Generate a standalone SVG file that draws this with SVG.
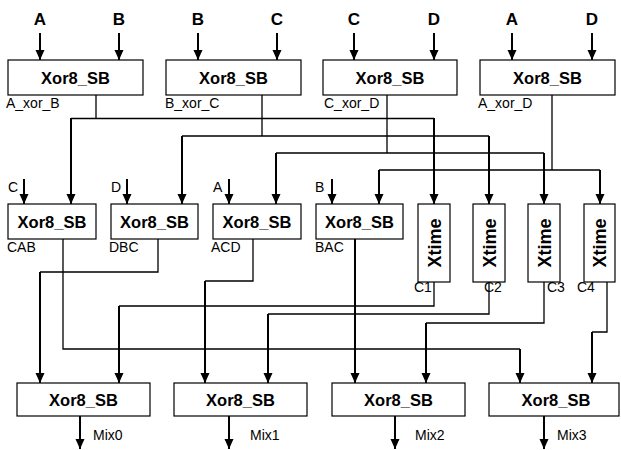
<svg xmlns="http://www.w3.org/2000/svg" width="621" height="450" viewBox="0 0 621 450">
<style>
.box{fill:#fff;stroke:#000;stroke-width:1.2}
.t{font-family:"Liberation Sans",Arial,sans-serif;font-weight:bold;font-size:16.5px;text-anchor:middle;fill:#000}
.h{font-family:"Liberation Sans",Arial,sans-serif;font-weight:bold;font-size:17px;text-anchor:middle;fill:#000}
.s{font-family:"Liberation Sans",Arial,sans-serif;font-size:14px;fill:#000}
.x{font-family:"Liberation Sans",Arial,sans-serif;font-weight:bold;font-size:18px;text-anchor:middle;fill:#000}
.thin{fill:none;stroke:#000;stroke-width:1.3}
.thick{fill:none;stroke:#000;stroke-width:2;marker-end:url(#ah)}
</style>
<defs>
<marker id="ah" markerUnits="userSpaceOnUse" markerWidth="10" markerHeight="10" refX="10" refY="4.5" orient="auto">
<path d="M0,0 L10,4.5 L0,9 z" fill="#000"/>
</marker>
</defs>
<rect width="621" height="450" fill="#fff"/>

<g id="connectors">
<path class="thick" d="M40,33 V60"/><path class="thick" d="M119,33 V60"/>
<path class="thick" d="M198,33 V60"/><path class="thick" d="M277,33 V60"/>
<path class="thick" d="M354,33 V60"/><path class="thick" d="M434,33 V60"/>
<path class="thick" d="M512,33 V60"/><path class="thick" d="M592,33 V60"/>
<path class="thin" d="M96,95 V118.5 M71,118.5 H434"/>
<path class="thick" d="M71,118 V204"/><path class="thick" d="M434,118 V204"/>
<path class="thin" d="M262,95 V136 M182,136 H489"/>
<path class="thick" d="M182,136 V204"/><path class="thick" d="M489,136 V204"/>
<path class="thin" d="M387,95 V153 M276,153 H544"/>
<path class="thick" d="M276,153 V204"/><path class="thick" d="M544,153 V204"/>
<path class="thin" d="M552,95 V170 M379,170 H600"/>
<path class="thick" d="M379,170 V204"/><path class="thick" d="M600,170 V204"/>
<path class="thick" d="M24,179 V204"/><path class="thick" d="M127,179 V204"/>
<path class="thick" d="M229,179 V204"/><path class="thick" d="M332,179 V204"/>
<path class="thin" d="M63,239 V349 H520"/><path class="thick" d="M520,349 V383"/>
<path class="thin" d="M158,239 V272 H40"/><path class="thick" d="M40,272 V383"/>
<path class="thin" d="M253,239 V281 H205"/><path class="thick" d="M205,281 V383"/>
<path class="thick" d="M355,239 V383"/>
<path class="thin" d="M434,282 V306 H119"/><path class="thick" d="M119,306 V383"/>
<path class="thin" d="M489,282 V314 H268"/><path class="thick" d="M268,314 V383"/>
<path class="thin" d="M544,282 V323 H426"/><path class="thick" d="M426,323 V383"/>
<path class="thin" d="M607,282 V332 H592"/><path class="thick" d="M592,332 V383"/>
<path class="thick" d="M80,416 V449"/><path class="thick" d="M229,416 V449"/>
<path class="thick" d="M395,416 V449"/><path class="thick" d="M544,416 V449"/>
</g>

<g id="in-labels">
<text class="h" x="40" y="25">A</text><text class="h" x="119" y="25">B</text>
<text class="h" x="198" y="25">B</text><text class="h" x="277" y="25">C</text>
<text class="h" x="354" y="25">C</text><text class="h" x="434" y="25">D</text>
<text class="h" x="512" y="25">A</text><text class="h" x="592" y="25">D</text>
</g>

<g id="AxorB"><rect class="box" x="8" y="60" width="135" height="35"/><text class="t" x="75.5" y="83.5">Xor8_SB</text><text class="s" x="6" y="108">A_xor_B</text></g>
<g id="BxorC"><rect class="box" x="166" y="60" width="135" height="35"/><text class="t" x="233.5" y="83.5">Xor8_SB</text><text class="s" x="165" y="108">B_xor_C</text></g>
<g id="CxorD"><rect class="box" x="323" y="60" width="134" height="35"/><text class="t" x="390" y="83.5">Xor8_SB</text><text class="s" x="324" y="108">C_xor_D</text></g>
<g id="AxorD"><rect class="box" x="480" y="60" width="135" height="35"/><text class="t" x="547.5" y="83.5">Xor8_SB</text><text class="s" x="478" y="108">A_xor_D</text></g>

<g id="CAB"><text class="s" x="8" y="192">C</text><rect class="box" x="8" y="204" width="88" height="35"/><text class="t" x="52" y="227.5">Xor8_SB</text><text class="s" x="7" y="252">CAB</text></g>
<g id="DBC"><text class="s" x="111" y="192">D</text><rect class="box" x="111" y="204" width="87" height="35"/><text class="t" x="154.5" y="227.5">Xor8_SB</text><text class="s" x="109" y="252">DBC</text></g>
<g id="ACD"><text class="s" x="213" y="192">A</text><rect class="box" x="213" y="204" width="88" height="35"/><text class="t" x="257" y="227.5">Xor8_SB</text><text class="s" x="211" y="252">ACD</text></g>
<g id="BAC"><text class="s" x="315" y="192">B</text><rect class="box" x="316" y="204" width="87" height="35"/><text class="t" x="359.5" y="227.5">Xor8_SB</text><text class="s" x="315" y="252">BAC</text></g>

<g id="Xtime1"><rect class="box" x="418" y="204" width="32" height="78"/><text class="x" transform="translate(440.5,243) rotate(-90)">Xtime</text><text class="s" x="414" y="292">C1</text></g>
<g id="Xtime2"><rect class="box" x="473" y="204" width="32" height="78"/><text class="x" transform="translate(495.5,243) rotate(-90)">Xtime</text><text class="s" x="484" y="292">C2</text></g>
<g id="Xtime3"><rect class="box" x="528" y="204" width="32" height="78"/><text class="x" transform="translate(550.5,243) rotate(-90)">Xtime</text><text class="s" x="547" y="292">C3</text></g>
<g id="Xtime4"><rect class="box" x="584" y="204" width="31" height="78"/><text class="x" transform="translate(606,243) rotate(-90)">Xtime</text><text class="s" x="577" y="292">C4</text></g>

<g id="Mix0"><rect class="box" x="17" y="383" width="133" height="33"/><text class="t" x="83.5" y="406">Xor8_SB</text><text class="s" x="93" y="440">Mix0</text></g>
<g id="Mix1"><rect class="box" x="174" y="383" width="133" height="33"/><text class="t" x="240.5" y="406">Xor8_SB</text><text class="s" x="250" y="440">Mix1</text></g>
<g id="Mix2"><rect class="box" x="332" y="383" width="133" height="33"/><text class="t" x="398.5" y="406">Xor8_SB</text><text class="s" x="415" y="440">Mix2</text></g>
<g id="Mix3"><rect class="box" x="489" y="383" width="130" height="33"/><text class="t" x="556" y="406">Xor8_SB</text><text class="s" x="557" y="440">Mix3</text></g>
</svg>
